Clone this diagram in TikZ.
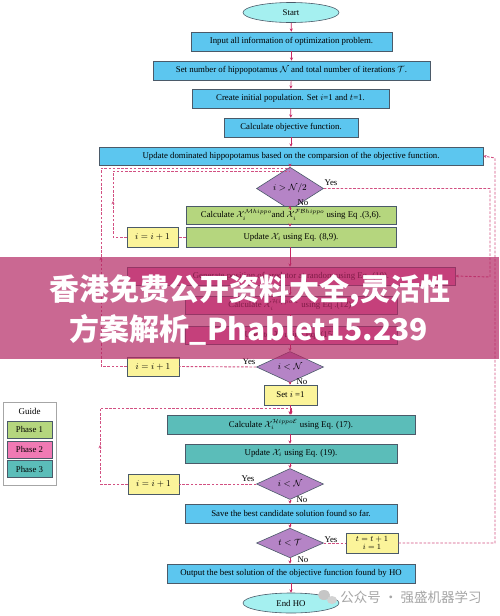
\documentclass[tikz,border=0pt]{standalone}
\usepackage{fontspec}
\setmainfont{Liberation Serif}
\newfontfamily\cjk{Noto Sans CJK SC}
\usetikzlibrary{shapes.geometric,arrows.meta}
\definecolor{bluef}{RGB}{92,198,239}
\definecolor{cyanf}{RGB}{165,240,240}
\definecolor{greenf}{RGB}{181,214,126}
\definecolor{pinkf}{RGB}{240,122,180}
\definecolor{tealf}{RGB}{91,189,185}
\definecolor{purplef}{RGB}{181,132,198}
\definecolor{yellowf}{RGB}{251,244,154}
\definecolor{edgec}{RGB}{75,90,105}
\definecolor{arrowc}{RGB}{200,40,100}
\definecolor{dashc}{RGB}{210,80,130}
\definecolor{bannerc}{RGB}{180,40,100}
\tikzset{
  base/.style={draw=edgec, line width=0.6pt, inner sep=0pt, align=center,
    font=\fontsize{8.8}{10}\selectfont},
  bluebox/.style={base, rectangle, fill=bluef},
  greenbox/.style={base, rectangle, fill=greenf},
  pinkbox/.style={base, rectangle, fill=pinkf},
  tealbox/.style={base, rectangle, fill=tealf},
  yelbox/.style={base, rectangle, fill=yellowf},
  term/.style={base, ellipse, fill=cyanf, minimum width=96, minimum height=20},
  decide/.style={base, diamond, fill=purplef, minimum width=67, minimum height=22,
    font=\fontsize{9.5}{10}\selectfont},
  arr/.style={arrowc, line width=0.7pt, -{Stealth[length=3.2pt,width=3pt]}},
  loopline/.style={dashc, line width=0.9pt, dash pattern=on 2.6pt off 1.6pt},
  looparr/.style={loopline, -{Stealth[length=3.2pt,width=3pt]}},
  lbl/.style={inner sep=0pt, font=\fontsize{8.8}{9}\selectfont},
}
\begin{document}
\begin{tikzpicture}[x=1pt,y=-1pt]
\useasboundingbox (0,0) rectangle (499,616);
\fill[white] (0,0) rectangle (499,616);

% main column
\node[term] (start) at (291,12.5) {Start};
\node[bluebox, minimum width=201, minimum height=19] (input) at (291.5,41.5) {Input all information of optimization problem.};
\node[bluebox, minimum width=277, minimum height=19] (setn) at (291.5,70.5) {Set number of hippopotamus $\mathcal{N}$ and total number of iterations $\mathcal{T}$.};
\node[bluebox, minimum width=197, minimum height=19] (create) at (290.5,98.5) {Create initial population. Set $i$=1 and $t$=1.};
\node[bluebox, minimum width=134, minimum height=19] (calcobj) at (291,127.5) {Calculate objective function.};
\node[bluebox, minimum width=384, minimum height=18] (upddom) at (291,156) {Update dominated hippopotamus based on the comparsion of the objective function.};
\node[decide] (d1) at (290,188.5) {$i > \mathcal{N}/2$};
\node[greenbox, minimum width=210, minimum height=18] (calcm) at (291,215) {Calculate $\mathcal{X}_i^{\mathcal{M}hippo}$and $\mathcal{X}_i^{\mathcal{FB}hippo}$ using Eq .(3,6).};
\node[greenbox, minimum width=210, minimum height=20] (upd89) at (291,237) {Update $\mathcal{X}_i$ using Eq. (8,9).};
\node[yelbox, minimum width=51, minimum height=20] (inc1) at (152.5,237) {$i = i + 1$};
\node[pinkbox, minimum width=328, minimum height=18] (gen) at (291,276) {Generate position of predator at random using Eq. (10).};
\node[pinkbox, minimum width=212, minimum height=18] (calcr) at (291,305) {Calculate $\mathcal{X}_i^{\mathcal{H}ippo\mathcal{R}}$ using Eq .(12).};
\node[pinkbox, minimum width=212, minimum height=18] (upd15) at (291,335) {Update $\mathcal{X}_i$ using Eq. (15).};
\node[decide] (d2) at (290,367) {$i < \mathcal{N}$};
\node[yelbox, minimum width=52, minimum height=19] (inc2) at (153,366.5) {$i = i + 1$};
\node[yelbox, minimum width=53, minimum height=20] (seti) at (290.5,395) {Set $i$ =1};
\node[tealbox, minimum width=248, minimum height=19] (calce) at (291,424.5) {Calculate $\mathcal{X}_i^{\mathcal{H}ippo\mathcal{E}}$ using Eq. (17).};
\node[tealbox, minimum width=212, minimum height=19] (upd19) at (291,453.5) {Update $\mathcal{X}_i$ using Eq. (19).};
\node[decide] (d3) at (290,484) {$i < \mathcal{N}$};
\node[yelbox, minimum width=51, minimum height=20] (inc3) at (153.5,484) {$i = i + 1$};
\node[bluebox, minimum width=212, minimum height=19] (save) at (291,513.5) {Save the best candidate solution found so far.};
\node[decide] (d4) at (290,543) {$t < \mathcal{T}$};
\node[yelbox, minimum width=52, minimum height=20, font=\fontsize{8.5}{8.5}\selectfont] (inct) at (372,543) {$t = t + 1$\\$i = 1$};
\node[bluebox, minimum width=248, minimum height=19] (output) at (291,573.5) {Output the best solution of the objective function found by HO};
\node[term] (endho) at (291,603) {End HO};

% solid arrows
\draw[arr] (start) -- (input);
\draw[arr] (input) -- (setn);
\draw[arr] (setn) -- (create);
\draw[arr] (create) -- (calcobj);
\draw[arr] (calcobj) -- (upddom);
\draw[arr] (upddom.south -| d1.north) -- (d1.north);
\draw[arr] (d1.south) -- (d1.south |- calcm.north);
\draw[arr] (calcm.south -| d1.south) -- (upd89.north -| d1.south);
\draw[arr] (upd89.south -| d1.south) -- (gen.north -| d1.south);
\draw[arr] (gen.south -| d1.south) -- (calcr.north -| d1.south);
\draw[arr] (calcr.south -| d1.south) -- (upd15.north -| d1.south);
\draw[arr] (upd15.south -| d2.north) -- (d2.north);
\draw[arr] (d2.south) -- (d2.south |- seti.north);
\draw[arr] (seti.south -| d2.south) -- (calce.north -| d2.south);
\draw[arr] (calce.south -| d2.south) -- (upd19.north -| d2.south);
\draw[arr] (upd19.south -| d3.north) -- (d3.north);
\draw[arr] (d3.south) -- (d3.south |- save.north);
\draw[arr] (save.south -| d4.north) -- (d4.north);
\draw[arr] (d4.south) -- (d4.south |- output.north);
\draw[arr] (output.south -| endho.north) -- (endho.north);

% labels
\node[lbl] (y1) at (331,183) {Yes};
\node[lbl] (n1) at (303,203) {No};
\node[lbl] (y2) at (249,362) {Yes};
\node[lbl] (n2) at (302,382) {No};
\node[lbl] (y3) at (248,479) {Yes};
\node[lbl] (n3) at (302,500) {No};
\node[lbl] (y4) at (331,540) {Yes};
\node[lbl] (n4) at (303,560) {No};

% loop coordinates
\coordinate (j1) at (290,168);
\coordinate (j2) at (290,171);
\coordinate (p1a) at (113,237);
\coordinate (p1m) at (113,201);
\coordinate (p1b) at (113,171);
\coordinate (p2a) at (101,366.5);
\coordinate (p2m) at (101,257);
\coordinate (p2b) at (101,168);
\coordinate (ya) at (490,188.5);
\coordinate (yb) at (490,277);
\coordinate (oa) at (495,543);
\coordinate (ob) at (495,158);
\coordinate (p3a) at (100,484);
\coordinate (p3m) at (100,445);
\coordinate (p3b) at (100,408);
\coordinate (p3c) at (291,408);

% phase 1 loop
\draw[loopline] (upd89.west) -- (inc1.east);
\draw[looparr] (inc1.west) -- (p1a) -- (p1m);
\draw[loopline] (p1m) -- (p1b) -- (j2);
% phase 2 loop
\draw[loopline] (d2.west) -- (inc2.east);
\draw[looparr] (inc2.west) -- (p2a) -- (p2m);
\draw[loopline] (p2m) -- (p2b) -- (j1);
% yes of d1 to phase 2
\draw[looparr] (d1.east) -- (ya) -- (yb) -- (gen.east);
% phase 3 loop
\draw[loopline] (d3.west) -- (inc3.east);
\draw[looparr] (inc3.west) -- (p3a) -- (p3m);
\draw[loopline] (p3m) -- (p3b) -- (p3c);
\draw[arr] (p3c) -- (calce.north -| p3c);
% outer loop
\draw[loopline] (d4.east) -- (inct.west);
\draw[looparr] (inct.east) -- (oa) -- (ob) -- (upddom.east);

% guide
\node[draw=gray!70, line width=0.6pt, fill=white, minimum width=53, minimum height=83, inner sep=0pt] (guide) at (29.5,443.5) {};
\node[lbl, font=\fontsize{9}{9}\selectfont] (guidet) at (29.5,411) {Guide};
\node[greenbox, minimum width=45, minimum height=17] (ph1) at (29.5,429.5) {Phase 1};
\node[pinkbox, minimum width=45, minimum height=17] (ph2) at (29.5,449.5) {Phase 2};
\node[tealbox, minimum width=45, minimum height=17] (ph3) at (29.5,469) {Phase 3};

% banner overlay
\fill[bannerc, fill opacity=0.7] (0,257) rectangle (499,359);
\node[text=white, inner sep=0pt, font=\cjk\bfseries\fontsize{30}{31}\selectfont] (b1) at (250,291) {香港免费公开资料大全,灵活性};
\node[text=white, inner sep=0pt, font=\cjk\bfseries\fontsize{30}{31}\selectfont] (b2) at (249,330) {方案解析\_Phablet15.239};

% bottom watermark
\fill[gray!45] (324,595) ellipse (6 and 5);
\fill[gray!35] (332,600) ellipse (5 and 4);
\node[text=gray!70, inner sep=0pt, font=\cjk\fontsize{13.5}{14}\selectfont] (wm) at (411,597) {公众号 · 强盛机器学习};
\end{tikzpicture}
\end{document}
